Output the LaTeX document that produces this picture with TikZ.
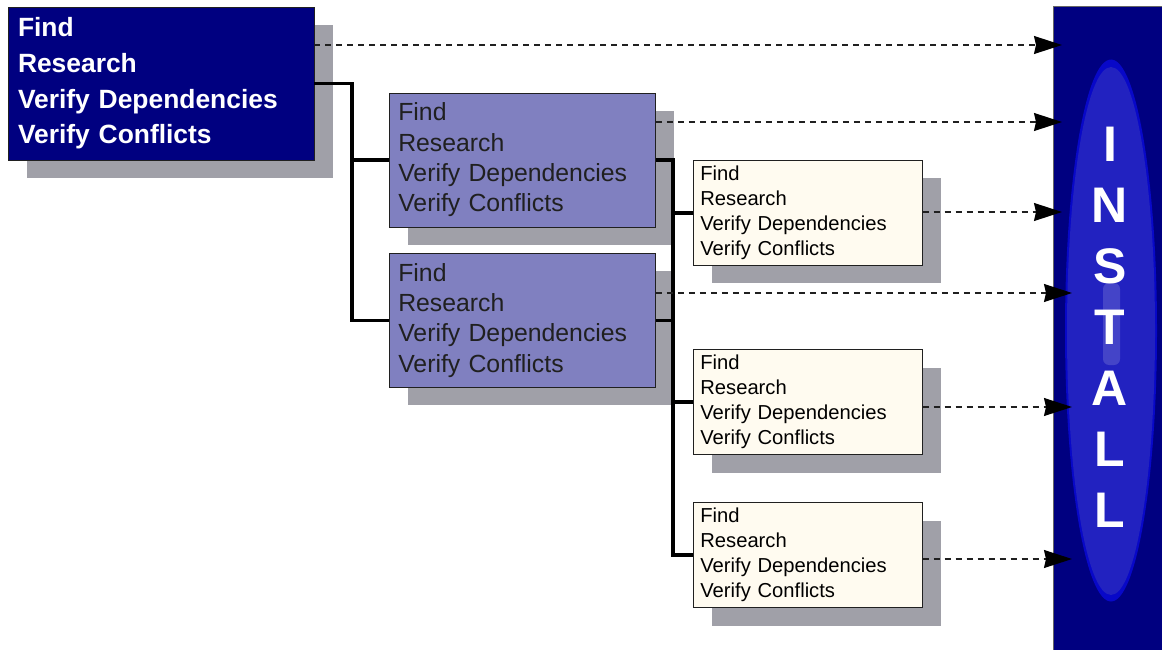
\documentclass[tikz,border=0pt]{standalone}
\usepackage{fontspec}
\setmainfont{Liberation Sans}
\usetikzlibrary{arrows.meta,calc}
\definecolor{navyb}{RGB}{0,0,128}
\definecolor{purpb}{RGB}{128,128,192}
\definecolor{creamb}{RGB}{255,251,240}
\definecolor{shadowg}{RGB}{160,160,168}
\definecolor{ellout}{RGB}{8,8,200}
\definecolor{ellin}{RGB}{34,34,192}
\definecolor{hilite}{RGB}{68,68,200}
\definecolor{inkgray}{RGB}{32,32,32}
\begin{document}
\begin{tikzpicture}[x=1pt,y=-1pt,
  box/.style={draw=inkgray, line width=0.9pt, inner ysep=0pt, align=left, anchor=center,
    preaction={fill=shadowg, transform canvas={shift={(19pt,-18pt)}}}},
  bigbox/.style={box, fill=navyb, text=white, minimum width=306pt, minimum height=153pt,
    inner xsep=10pt, text width=286pt, font=\fontsize{26.4}{35.7}\selectfont\bfseries},
  midbox/.style={box, fill=purpb, text=inkgray, minimum width=266pt, minimum height=134pt,
    inner xsep=9pt, text width=248pt, font=\fontsize{24.8}{30.3}\selectfont},
  smallbox/.style={box, fill=creamb, text=black, minimum width=228.7pt, minimum height=105pt,
    inner xsep=7pt, text width=214.7pt, font=\fontsize{20.2}{25}\selectfont},
  tree/.style={line width=3.6pt, black, line join=miter},
  flow/.style={line width=1.3pt, draw=inkgray, dash pattern=on 6pt off 5pt,
    -{Stealth[length=28pt,width=18pt,inset=2pt,black]}}
]
\useasboundingbox (0,0) rectangle (1162,650);
\fill[white] (0,0) rectangle (1162,650);

% boxes
\node[bigbox] (b1) at (161,83.5) {Find\\Research\\Verify Dependencies\\Verify Conflicts};
\node[midbox] (bA) at (522.3,160) {Find\\Research\\Verify Dependencies\\Verify Conflicts};
\node[midbox] (bB) at (522.3,320.3) {Find\\Research\\Verify Dependencies\\Verify Conflicts};
\node[smallbox] (s1) at (807.7,212.7) {Find\\Research\\Verify Dependencies\\Verify Conflicts};
\node[smallbox] (s2) at (807.7,402) {Find\\Research\\Verify Dependencies\\Verify Conflicts};
\node[smallbox] (s3) at (807.7,555) {Find\\Research\\Verify Dependencies\\Verify Conflicts};

% install bar
\node[fill=navyb, draw=black!60, line width=0.8pt, minimum width=110pt, minimum height=646pt,
  anchor=north west, inner sep=0pt] (bar) at (1053,6) {};
\fill[ellout] (1111,330.5) ellipse [x radius=46pt, y radius=271pt];
\fill[ellin] (1111,331) ellipse [x radius=44pt, y radius=264pt];
\fill[hilite, rounded corners=6pt] (1103,283) rectangle (1120,365);
\node[text=white, font=\fontsize{50}{61}\selectfont\bfseries, align=center, inner sep=0pt]
  (lbl) at (1110,327) {I\\N\\S\\T\\A\\L\\L};

% tree connectors
\coordinate (j1) at (351.7,83.5);
\coordinate (j2) at (673,160);
\draw[tree] (b1.east) -- (j1) |- (bA.west);
\draw[tree] (j1) |- (bB.west);
\draw[tree] (bA.east) -- (j2) |- (s3.west);
\draw[tree] (j2) |- (s1.west);
\draw[tree] (bB.east) -- (bB.east -| j2);
\draw[tree] (j2) |- (s2.west);

% flow arrows
\coordinate (t1) at (1062,45);
\coordinate (t2) at (1062,122);
\coordinate (t3) at (1062,212);
\coordinate (t4) at (1072,293);
\coordinate (t5) at (1072,407);
\coordinate (t6) at (1072,559);
\draw[flow] (b1.east |- t1) -- (t1);
\draw[flow] (bA.east |- t2) -- (t2);
\draw[flow] (s1.east |- t3) -- (t3);
\draw[flow] (bB.east |- t4) -- (t4);
\draw[flow] (s2.east |- t5) -- (t5);
\draw[flow] (s3.east |- t6) -- (t6);
\end{tikzpicture}
\end{document}
